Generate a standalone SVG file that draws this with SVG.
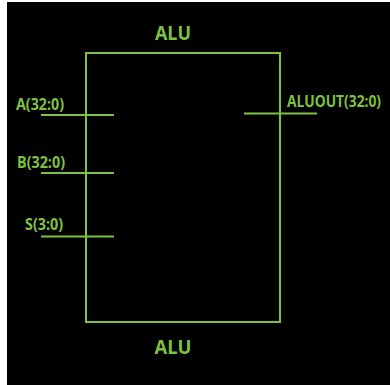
<svg xmlns="http://www.w3.org/2000/svg" width="390" height="385" viewBox="0 0 390 385">
<style>
.ln{stroke:#7ec242;stroke-width:2;fill:none}
.t{fill:#7ec242;font-family:"Open Sans","Liberation Sans",sans-serif;font-weight:bold}
.big{font-size:20px}
.sm{font-size:16px}
</style>
<rect x="0" y="0" width="390" height="385" fill="#ffffff"/>
<rect x="7" y="2" width="383" height="383" fill="#000000"/>
<g id="alu">
<rect class="ln" x="86" y="53" width="194" height="269"/>
<text class="t big" x="173" y="40" text-anchor="middle" textLength="36" lengthAdjust="spacingAndGlyphs">ALU</text>
<text class="t big" x="173" y="354" text-anchor="middle" textLength="37" lengthAdjust="spacingAndGlyphs">ALU</text>
</g>
<g id="connectors">
<line class="ln" x1="41" y1="115" x2="114" y2="115"/>
<line class="ln" x1="41" y1="173" x2="114" y2="173"/>
<line class="ln" x1="41" y1="236.5" x2="114" y2="236.5"/>
<line class="ln" x1="244" y1="113.5" x2="317" y2="113.5"/>
</g>
<g id="portA"><text class="t sm" x="16" y="109.5" textLength="48" lengthAdjust="spacingAndGlyphs">A(32:0)</text></g>
<g id="portB"><text class="t sm" x="17" y="168" textLength="48" lengthAdjust="spacingAndGlyphs">B(32:0)</text></g>
<g id="portS"><text class="t sm" x="25" y="230" textLength="38" lengthAdjust="spacingAndGlyphs">S(3:0)</text></g>
<g id="portOut"><text class="t sm" x="287" y="107" textLength="94" lengthAdjust="spacingAndGlyphs">ALUOUT(32:0)</text></g>
</svg>
